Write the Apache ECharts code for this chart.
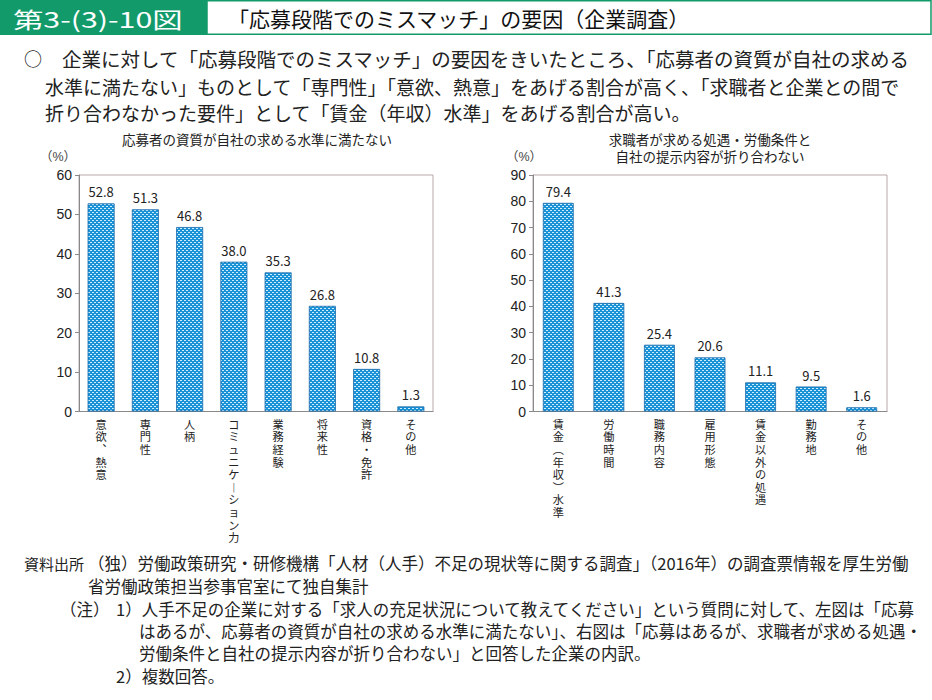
<!DOCTYPE html>
<html><head><meta charset="utf-8">
<script src="https://cdn.jsdelivr.net/npm/echarts@6/dist/echarts.min.js"></script>
<style>html,body{margin:0;padding:0;background:#fff}#c{width:932px;height:700px}</style>
</head><body><div id="c"></div>
<script>
// ---- data ----
const leftCategories = ['意欲、熱意','専門性','人柄','コミュニケーション力','業務経験','将来性','資格・免許','その他'];
const leftValues = [52.8, 51.3, 46.8, 38.0, 35.3, 26.8, 10.8, 1.3];
const rightCategories = ['賃金（年収）水準','労働時間','職務内容','雇用形態','賃金以外の処遇','勤務地','その他'];
const rightValues = [79.4, 41.3, 25.4, 20.6, 11.1, 9.5, 1.6];
const leftTicks = [0, 10, 20, 30, 40, 50, 60];
const rightTicks = [0, 10, 20, 30, 40, 50, 60, 70, 80, 90];

const FONT = '"Noto Sans CJK JP", "Noto Sans", sans-serif';
const VFONT = '"Liberation Sans", "Noto Sans CJK JP", sans-serif';

// dotted bar pattern
const pc = document.createElement('canvas');
pc.width = 4; pc.height = 4;
const g = pc.getContext('2d');
g.fillStyle = '#1b92d6'; g.fillRect(0, 0, 4, 4);
g.fillStyle = '#cdeeff'; g.fillRect(0, 0, 2, 1); g.fillRect(2, 2, 2, 1);

const vmap = {'、':'︑','（':'︵','）':'︶','ー':'︱'};
function vertical(s){ return s.split('').map(c => vmap[c] || c).join('\n'); }

const chart = echarts.init(document.getElementById('c'), null, {renderer: 'svg'});

function xAxis(idx, cats){
  return {
    type: 'category', gridIndex: idx, data: cats,
    axisLine: {lineStyle: {color: '#8a8a8a', width: 1}},
    axisTick: {inside: true, length: 5, lineStyle: {color: '#8a8a8a'}},
    axisLabel: {formatter: vertical, fontFamily: VFONT, fontSize: 11.2, lineHeight: 12.6, color: '#222', margin: 7, interval: 0, verticalAlign: 'top'}
  };
}
function yAxis(idx, ticks){
  return {
    type: 'value', gridIndex: idx, min: ticks[0], max: ticks[ticks.length-1], interval: ticks[1]-ticks[0],
    axisLine: {show: true, lineStyle: {color: '#8a8a8a', width: 1}},
    axisTick: {show: true, length: 4, lineStyle: {color: '#8a8a8a'}},
    splitLine: {show: false},
    axisLabel: {fontFamily: VFONT, fontSize: 14, color: '#222', margin: 7}
  };
}
function series(idx, vals){
  return {
    type: 'bar', xAxisIndex: idx, yAxisIndex: idx, data: vals, barWidth: '61%',
    itemStyle: {color: {image: pc, repeat: 'repeat'}, borderColor: '#1a6aa8', borderWidth: 0.8},
    label: {show: true, position: 'top', distance: 5, formatter: p => p.value.toFixed(1), fontFamily: FONT, fontSize: 13, color: '#222'},
    silent: true, animation: false
  };
}

function txt(x, y, s, size, opts, extra){
  return Object.assign({type: 'text', x: x, y: y, style: Object.assign({text: s, fontFamily: FONT, fontSize: size, fill: '#222', textVerticalAlign: 'middle', verticalAlign: 'middle'}, opts || {})}, extra || {});
}

const noteSize = 16.5;
const graphics = [
  {type: 'rect', shape: {x: 0, y: 0, width: 207, height: 35}, style: {fill: '#139a6b'}},
  {type: 'rect', shape: {x: 207, y: 0.75, width: 724, height: 33.5}, style: {fill: '#fff', stroke: '#139a6b', lineWidth: 1.5}},
  txt(13, 18, '第3-(3)-10図', 22, {fill: '#fff'}, {scaleX: 1.38}),
  txt(228, 18, '「応募段階でのミスマッチ」の要因（企業調査）', 21, {fill: '#111'}),
  txt(24, 58, '○', 18),
  txt(62, 58, '企業に対して「応募段階でのミスマッチ」の要因をきいたところ、「応募者の資質が自社の求める', 19.5),
  txt(45, 86, '水準に満たない」ものとして「専門性」「意欲、熱意」をあげる割合が高く、「求職者と企業との間で', 19),
  txt(45, 112, '折り合わなかった要件」として「賃金（年収）水準」をあげる割合が高い。', 19),
  txt(257, 140, '応募者の資質が自社の求める水準に満たない', 13.5, {align: 'center', textAlign: 'center', fontFamily: VFONT}),
  txt(710, 140, '求職者が求める処遇・労働条件と', 13.5, {align: 'center', textAlign: 'center', fontFamily: VFONT}),
  txt(710, 157, '自社の提示内容が折り合わない', 13.5, {align: 'center', textAlign: 'center', fontFamily: VFONT}),
  txt(40, 157, '（%）', 12.5, {fill: '#444', fontFamily: VFONT}),
  txt(506, 157, '（%）', 12.5, {fill: '#444', fontFamily: VFONT}),
  txt(24, 563, '資料出所', 15),
  txt(88, 563, '（独）労働政策研究・研修機構「人材（人手）不足の現状等に関する調査」（2016年）の調査票情報を厚生労働', noteSize),
  txt(88, 586, '省労働政策担当参事官室にて独自集計', noteSize),
  txt(60, 609, '（注）', noteSize),
  txt(116, 609, '1）人手不足の企業に対する「求人の充足状況について教えてください」という質問に対して、左図は「応募', noteSize),
  txt(139, 631, 'はあるが、応募者の資質が自社の求める水準に満たない」、右図は「応募はあるが、求職者が求める処遇・', noteSize),
  txt(139, 653, '労働条件と自社の提示内容が折り合わない」と回答した企業の内訳。', noteSize),
  txt(116, 676, '2）複数回答。', noteSize)
];

chart.setOption({
  animation: false,
  grid: [
    {left: 79, top: 175, width: 354, height: 236.5, show: true, borderColor: '#b9a9a9', borderWidth: 1, backgroundColor: 'transparent'},
    {left: 533, top: 175, width: 354, height: 236.5, show: true, borderColor: '#b9a9a9', borderWidth: 1, backgroundColor: 'transparent'}
  ],
  xAxis: [xAxis(0, leftCategories), xAxis(1, rightCategories)],
  yAxis: [yAxis(0, leftTicks), yAxis(1, rightTicks)],
  series: [series(0, leftValues), series(1, rightValues)],
  graphic: graphics
});
</script></body></html>
